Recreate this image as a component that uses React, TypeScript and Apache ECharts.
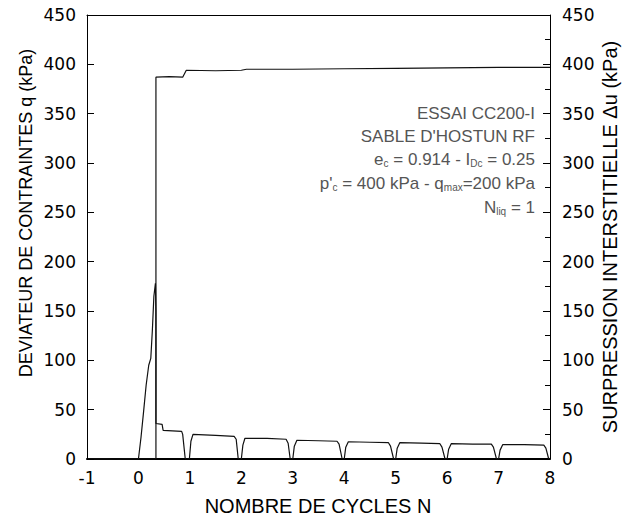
import React, { useEffect, useRef } from "react";
import * as echarts from "echarts";

// q (left axis, kPa) vs number of cycles N
const qX = [-1, -0.6, -0.45, -0.3, 0, 0.05, 0.1, 0.15, 0.2, 0.24, 0.27, 0.3, 0.33, 0.34, 0.34, 0.46, 0.48, 0.84, 0.86, 0.91, 0.99, 1.02, 1.06, 1.5, 1.86, 1.9, 1.94, 2.0, 2.03, 2.07, 2.5, 2.87, 2.91, 2.95, 3.0, 3.03, 3.08, 3.5, 3.86, 3.9, 3.96, 4.0, 4.03, 4.08, 4.5, 4.86, 4.9, 4.96, 5.0, 5.03, 5.08, 5.5, 5.86, 5.9, 5.96, 6.0, 6.03, 6.08, 6.5, 6.86, 6.9, 6.96, 7.0, 7.03, 7.08, 7.5, 7.88, 7.92, 7.97, 8.0];
const qY = [0, 0, -1, 0, 0, 22, 48, 75, 95, 102, 130, 165, 178, 150, 36, 35, 29, 28, 25, 0, 0, 18, 25, 24, 23, 20, 0, 0, 14, 21, 21, 20, 16, 0, 0, 13, 19, 18.5, 18, 15, 0, 0, 12, 17.5, 17, 16.5, 13, 0, 0, 11, 16.5, 16, 15.5, 12, 0, 0, 10, 15.5, 15, 15, 12, 0, 0, 9, 14.5, 14.5, 14, 11, 1, 0];

// Δu (right axis, kPa) vs number of cycles N
const uX = [-1, 0, 0.34, 0.34, 0.6, 0.86, 0.93, 1.5, 2.0, 2.1, 3.0, 4.0, 5.0, 6.0, 7.0, 8.0];
const uY = [0, 0, 0, 387, 387.5, 387, 394, 393.5, 394, 395, 395, 395.5, 396, 396.5, 397, 397];

const xTicks = [-1, 0, 1, 2, 3, 4, 5, 6, 7, 8];
const yTicks = [0, 50, 100, 150, 200, 250, 300, 350, 400, 450];

const FONT = "Liberation Sans, Arial, sans-serif";
const NUMFONT = "DejaVu Sans, Liberation Sans, sans-serif";

export default function App() {
  const ref = useRef<HTMLDivElement>(null);
  useEffect(() => {
    if (!ref.current) return;
    const chart = echarts.init(ref.current, undefined, { renderer: "svg" });
    const qData = qX.map((x, i) => [x, qY[i]]);
    const uData = uX.map((x, i) => [x, uY[i]]);
    const annColor = "#555";
    const annFont = `17px ${FONT}`;
    const sub = { fontSize: 10, fill: annColor, fontFamily: FONT, padding: [8, 0, 0, 0] };
    const ann = (y: number, text: string) => ({
      type: "text",
      x: 535,
      y,
      style: { text, align: "right", verticalAlign: "middle", font: annFont, fill: annColor, rich: { s: sub } },
    });
    const xMin = xTicks[0];
    const xMax = xTicks[xTicks.length - 1];
    const yMin = yTicks[0];
    const yMax = yTicks[yTicks.length - 1];
    chart.setOption({
      animation: false,
      backgroundColor: "#fff",
      grid: { left: 87, right: 74, top: 15, bottom: 62, show: false },
      xAxis: [
        {
          type: "value",
          min: xMin,
          max: xMax,
          interval: 1,
          position: "bottom",
          axisLine: { show: true, onZero: false, lineStyle: { color: "#000", width: 2 } },
          axisTick: { show: false },
          axisLabel: { fontSize: 17, color: "#000", fontFamily: NUMFONT, margin: 10 },
          splitLine: { show: false },
        },
        {
          type: "value",
          min: xMin,
          max: xMax,
          interval: 1,
          position: "top",
          axisLine: { show: true, onZero: false, lineStyle: { color: "#000", width: 1 } },
          axisTick: { show: false },
          axisLabel: { show: false },
          splitLine: { show: false },
        },
      ],
      yAxis: [
        {
          type: "value",
          min: yMin,
          max: yMax,
          interval: 50,
          position: "left",
          z: 10,
          axisLine: { show: true, onZero: false, lineStyle: { color: "#000", width: 1 } },
          axisTick: { show: true, inside: true, length: 7, lineStyle: { color: "#000", width: 1 } },
          axisLabel: { fontSize: 17, color: "#000", fontFamily: NUMFONT, margin: 11 },
          splitLine: { show: false },
        },
        {
          type: "value",
          min: yMin,
          max: yMax,
          interval: 50,
          position: "right",
          z: 10,
          axisLine: { show: true, onZero: false, lineStyle: { color: "#000", width: 1 } },
          axisTick: { show: true, inside: true, length: 7, lineStyle: { color: "#000", width: 1 } },
          minorTick: { show: true, splitNumber: 2, length: 5, lineStyle: { color: "#000", width: 1 } },
          axisLabel: { fontSize: 17, color: "#000", fontFamily: NUMFONT, margin: 12 },
          splitLine: { show: false },
        },
      ],
      series: [
        {
          type: "line",
          name: "q",
          yAxisIndex: 0,
          data: qData,
          showSymbol: false,
          lineStyle: { color: "#111", width: 1.2 },
        },
        {
          type: "line",
          name: "du",
          yAxisIndex: 1,
          data: uData,
          showSymbol: false,
          lineStyle: { color: "#111", width: 1.2 },
        },
      ],
      graphic: [
        {
          type: "text", x: 318, y: 506,
          style: { text: "NOMBRE DE CYCLES N", align: "center", verticalAlign: "middle", font: `20px ${FONT}`, fill: "#000" },
        },
        {
          type: "text", x: 26, y: 213, rotation: Math.PI / 2,
          style: { text: "DEVIATEUR DE CONTRAINTES q (kPa)", align: "center", verticalAlign: "middle", font: `18px ${FONT}`, fill: "#000" },
        },
        {
          type: "text", x: 610, y: 237, rotation: Math.PI / 2,
          style: { text: "SURPRESSION INTERSTITIELLE \u0394u (kPa)", align: "center", verticalAlign: "middle", font: `20px ${FONT}`, fill: "#000" },
        },
        ann(113, "ESSAI CC200-I"),
        ann(136, "SABLE D'HOSTUN RF"),
        ann(159, "e{s|c} = 0.914 - I{s|Dc} = 0.25"),
        ann(183, "p'{s|c} = 400 kPa - q{s|max}=200 kPa"),
        ann(207, "N{s|liq} = 1"),
      ],
    });

    return () => chart.dispose();
  }, []);
  return <div ref={ref} style={{ width: 624, height: 521, position: "absolute", left: 0, top: 0 }} />;
}
